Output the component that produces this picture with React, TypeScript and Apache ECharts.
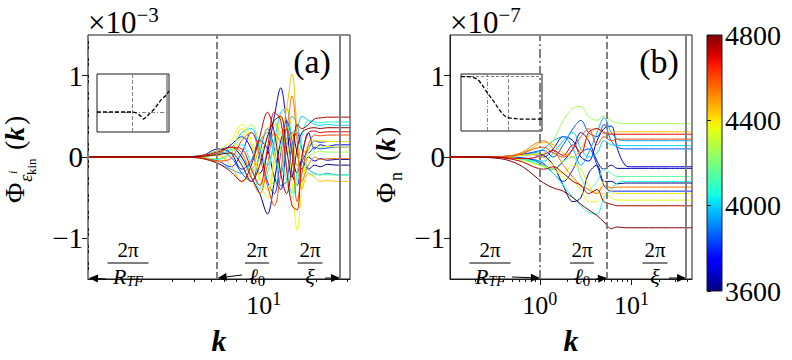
import React, { useEffect, useRef } from "react";
import * as echarts from "echarts";

const FONT = "'Liberation Serif', 'DejaVu Serif', serif";

// Temperatures (colour value of each curve)
const TEMPS = [3600, 3650, 3700, 3800, 3850, 3950, 4000, 4050, 4150, 4250, 4350, 4400, 4450, 4550, 4600, 4700, 4750, 4800];

// Panel (a): wavenumbers and Phi_eps (x 1e-3)
const K_A = [1, 3.5, 4.5, 5.5, 6.5, 7.5, 8.5, 9.5, 10.5, 11.5, 12.5, 13.5, 14.5, 15.5, 16.5, 18, 19.5, 21, 23, 26, 31];
const PHI_A: number[][] = [
  [0, 0, 0.01, 0.08, 0.12, 0.0, -0.25, -0.45, -0.7, -0.3, 0.2, 0.35, 0.05, -0.2, -0.05, -0.15, -0.1, -0.12, -0.09, -0.1, -0.1],
  [0, 0, 0.02, 0.1, 0.05, -0.15, -0.05, 0.2, 0.1, -0.25, -0.4, 0.1, 0.3, 0.05, -0.15, 0.0, -0.05, -0.02, -0.04, -0.03, -0.03],
  [0, 0, 0.01, 0.04, 0.15, 0.25, 0.1, -0.2, 0.05, 0.5, 0.85, 0.4, -0.2, -0.35, 0.0, 0.3, 0.1, 0.15, 0.13, 0.15, 0.15],
  [0, 0, -0.01, -0.05, -0.12, 0.05, 0.3, 0.1, -0.3, -0.45, 0.05, 0.45, 0.2, -0.1, -0.05, 0.1, 0.2, 0.18, 0.19, 0.19, 0.19],
  [0, 0, 0.02, 0.06, 0.0, -0.2, -0.3, 0.05, 0.35, 0.1, -0.35, -0.3, 0.15, 0.3, 0.1, 0.05, 0.12, 0.1, 0.11, 0.12, 0.12],
  [0, 0, -0.02, -0.08, -0.15, -0.2, -0.05, 0.2, 0.3, 0.0, -0.2, 0.2, 0.5, 0.4, 0.1, -0.15, -0.2, -0.22, -0.2, -0.22, -0.22],
  [0, 0, 0.01, 0.03, 0.1, 0.3, 0.35, 0.1, -0.1, 0.2, 0.55, 0.6, 0.3, 0.35, 0.5, 0.45, 0.4, 0.39, 0.4, 0.39, 0.39],
  [0, 0, -0.01, -0.03, 0.05, 0.15, -0.1, -0.4, -0.2, 0.15, 0.3, -0.1, -0.45, -0.2, 0.25, 0.45, 0.43, 0.42, 0.43, 0.43, 0.43],
  [0, 0, 0.01, 0.05, 0.1, -0.05, -0.2, 0.0, 0.25, 0.45, 0.1, -0.3, -0.5, -0.3, -0.1, -0.2, -0.22, -0.21, -0.22, -0.22, -0.22],
  [0, 0, -0.01, -0.02, 0.08, 0.25, 0.4, 0.15, -0.2, -0.35, 0.1, 0.4, 0.15, -0.35, -0.3, 0.0, 0.05, 0.07, 0.06, 0.06, 0.06],
  [0, 0, 0.02, 0.08, 0.2, 0.4, 0.2, -0.3, -0.5, -0.1, 0.3, 0.2, -0.3, -0.9, -0.4, 0.1, 0.15, 0.12, 0.13, 0.12, 0.12],
  [0, 0, -0.02, -0.06, 0.05, 0.35, 0.15, -0.25, -0.4, 0.0, 0.5, 0.6, 0.3, -0.1, 0.0, 0.15, 0.2, 0.2, 0.19, 0.19, 0.19],
  [0, 0, 0.01, 0.02, -0.1, -0.3, -0.2, 0.15, 0.35, 0.4, 0.3, 0.6, 1.02, 0.3, -0.4, -0.2, -0.25, -0.3, -0.29, -0.3, -0.3],
  [0, 0, 0.01, 0.04, 0.12, 0.05, -0.25, -0.45, -0.1, 0.3, 0.2, 0.35, 0.75, 0.2, -0.3, -0.1, 0.0, -0.03, -0.02, -0.02, -0.02],
  [0, 0, -0.01, -0.05, -0.02, 0.2, 0.3, 0.0, -0.35, -0.6, -0.2, 0.35, 0.1, -0.55, -0.2, 0.15, 0.27, 0.26, 0.27, 0.27, 0.27],
  [0, 0, 0.02, 0.06, 0.12, 0.1, -0.15, -0.35, 0.1, 0.55, 0.45, -0.15, -0.6, -0.65, 0.0, 0.3, 0.32, 0.3, 0.31, 0.31, 0.31],
  [0, 0, -0.02, -0.08, -0.18, -0.3, -0.1, 0.25, 0.55, 0.3, -0.2, -0.45, -0.1, 0.4, 0.35, 0.4, 0.47, 0.48, 0.49, 0.49, 0.49],
  [0, 0, 0.01, 0.03, 0.05, -0.1, -0.3, -0.1, 0.25, 0.45, 0.5, 0.1, -0.25, 0.1, 0.3, 0.35, 0.36, 0.35, 0.36, 0.36, 0.36],
];

// Panel (b): wavenumbers and Phi_n (x 1e-7)
const K_B = [0.105, 0.2, 0.3, 0.45, 0.65, 0.85, 1.1, 1.4, 1.8, 2.3, 2.8, 3.4, 4.2, 5, 6, 7, 8.5, 10, 13, 18, 25, 45.5];
const PHI_B: number[][] = [
  [0, 0, 0, 0.01, 0.03, 0.05, 0.02, -0.1, -0.35, -0.55, -0.5, -0.2, -0.1, -0.3, -0.3, -0.33, -0.32, -0.32, -0.32, -0.32, -0.32, -0.32],
  [0, 0, 0, -0.01, -0.02, -0.04, -0.1, -0.15, -0.05, 0.1, 0.3, 0.2, -0.05, -0.15, -0.1, -0.14, -0.14, -0.14, -0.14, -0.14, -0.14, -0.14],
  [0, 0, 0, 0.01, 0.02, 0.03, 0.0, 0.1, 0.25, 0.2, 0.0, -0.05, 0.2, 0.35, 0.38, 0.1, -0.1, -0.12, -0.12, -0.12, -0.12, -0.12],
  [0, 0, 0, 0, -0.01, -0.03, -0.08, -0.2, -0.3, -0.15, 0.05, 0.1, -0.1, -0.35, -0.42, -0.42, -0.42, -0.42, -0.42, -0.42, -0.42, -0.42],
  [0, 0, 0, 0.01, 0.03, 0.06, 0.08, 0.0, 0.15, 0.35, 0.45, 0.3, 0.25, 0.4, 0.2, 0.12, 0.1, 0.1, 0.1, 0.1, 0.1, 0.1],
  [0, 0, 0, 0.01, 0.02, 0.05, 0.1, 0.2, 0.25, 0.1, -0.1, 0.05, 0.3, 0.48, 0.3, 0.22, 0.2, 0.2, 0.2, 0.2, 0.2, 0.2],
  [0, 0, 0, -0.01, -0.03, -0.05, -0.05, 0.05, 0.2, 0.3, 0.1, 0.0, 0.05, 0.2, 0.15, 0.14, 0.14, 0.14, 0.14, 0.14, 0.14, 0.14],
  [0, 0, 0, -0.01, -0.03, -0.07, -0.12, -0.2, -0.35, -0.5, -0.6, -0.68, -0.7, -0.5, -0.4, -0.32, -0.3, -0.3, -0.3, -0.3, -0.3, -0.3],
  [0, 0, 0, -0.01, -0.02, -0.05, -0.1, -0.15, -0.05, 0.0, -0.25, -0.4, -0.3, -0.15, -0.2, -0.24, -0.24, -0.24, -0.24, -0.24, -0.24, -0.24],
  [0, 0, 0, 0.01, 0.02, 0.04, 0.05, 0.2, 0.45, 0.6, 0.62, 0.5, 0.45, 0.5, 0.45, 0.42, 0.41, 0.41, 0.41, 0.41, 0.41, 0.41],
  [0, 0, 0, -0.01, -0.04, -0.08, -0.12, -0.15, -0.25, -0.3, -0.4, -0.55, -0.55, -0.45, -0.5, -0.53, -0.53, -0.53, -0.53, -0.53, -0.53, -0.53],
  [0, 0, 0, 0.01, 0.02, 0.03, 0.0, -0.1, -0.2, -0.1, -0.15, -0.35, -0.45, -0.3, -0.42, -0.45, -0.45, -0.45, -0.45, -0.45, -0.45, -0.45],
  [0, 0, 0, 0.01, 0.05, 0.12, 0.18, 0.15, 0.05, 0.0, 0.1, 0.25, 0.35, 0.28, 0.3, 0.31, 0.31, 0.31, 0.31, 0.31, 0.31, 0.31],
  [0, 0, 0, 0.01, 0.06, 0.15, 0.2, 0.1, -0.1, -0.25, -0.35, -0.4, -0.45, -0.35, -0.38, -0.37, -0.37, -0.37, -0.37, -0.37, -0.37, -0.37],
  [0, 0, 0, 0.01, 0.04, 0.1, 0.12, 0.05, 0.0, 0.1, 0.25, 0.35, 0.15, 0.25, 0.2, 0.22, 0.22, 0.22, 0.22, 0.22, 0.22, 0.22],
  [0, 0, 0, -0.01, -0.02, -0.01, 0.03, 0.08, 0.02, 0.15, 0.05, 0.3, 0.35, 0.3, 0.28, 0.28, 0.28, 0.28, 0.28, 0.28, 0.28, 0.28],
  [0, 0, 0, -0.02, -0.06, -0.12, -0.15, -0.12, -0.2, -0.3, -0.35, -0.45, -0.4, -0.55, -0.58, -0.6, -0.6, -0.6, -0.6, -0.6, -0.6, -0.6],
  [0, 0, -0.01, -0.04, -0.12, -0.22, -0.32, -0.38, -0.42, -0.5, -0.58, -0.65, -0.72, -0.8, -0.88, -0.86, -0.87, -0.87, -0.87, -0.87, -0.87, -0.87],
];

// Insets
const INSET_K_A = [1, 2, 4, 5.4, 6.5, 8, 9, 10.5, 12, 14, 16, 19, 22, 26, 31];
const INSET_V_A = [0, 0, 0, 0, -0.05, -0.2, -0.35, -0.25, -0.1, 0.05, 0.2, 0.45, 0.65, 0.8, 1.05];
const INSET_K_B = [0.12, 0.2, 0.3, 0.45, 0.65, 1, 1.5, 2.2, 3.2, 4.5, 6, 9, 15, 30, 80];
const INSET_V_B = [1, 1, 0.99, 0.95, 0.85, 0.7, 0.58, 0.45, 0.33, 0.26, 0.24, 0.23, 0.22, 0.22, 0.22];

// Characteristic wavenumbers
const K_RTF_A = 1, K_L0_A = 5.4, K_XI_A = 27.2;
const K_RTF_B = 1, K_L0_B = 5.4, K_XI_B = 39.2;

// Axis ranges and ticks
const X_RANGE_A = [1, 31];
const X_RANGE_B = [0.105, 45.5];
const MAJOR_A = [10];
const MAJOR_B = [1, 10];
const MINOR_A = [2, 3, 4, 5, 6, 7, 8, 9, 20, 30];
const MINOR_B = [0.2, 0.3, 0.4, 0.5, 0.6, 0.7, 0.8, 0.9, 2, 3, 4, 5, 6, 7, 8, 9, 20, 30, 40];
const Y_TICKS = [-1, 0, 1];
const CBAR_MIN = 3600, CBAR_MAX = 4800, CBAR_STEP = 400;

// matplotlib "jet" colormap segments
const JR = [[0, 0], [0.35, 0], [0.66, 1], [0.89, 1], [1, 0.5]];
const JG = [[0, 0], [0.125, 0], [0.375, 1], [0.64, 1], [0.91, 0], [1, 0]];
const JB = [[0, 0.5], [0.11, 1], [0.34, 1], [0.65, 0], [1, 0]];
function seg(tbl: number[][], t: number) {
  for (let i = 1; i < tbl.length; i++) {
    if (t <= tbl[i][0]) {
      const [x0, y0] = tbl[i - 1];
      const [x1, y1] = tbl[i];
      return y0 + ((y1 - y0) * (t - x0)) / (x1 - x0);
    }
  }
  return tbl[tbl.length - 1][1];
}
function jet(t: number) {
  const c = (v: number) => Math.round(255 * Math.max(0, Math.min(1, v)));
  return `rgb(${c(seg(JR, t))},${c(seg(JG, t))},${c(seg(JB, t))})`;
}
const tColor = (T: number) => jet((T - CBAR_MIN) / (CBAR_MAX - CBAR_MIN));

const GREY = "#808080";
const INK = "#1a1a1a";

const powRich = {
  b: { fontSize: 26, fontFamily: FONT, color: "#000" },
  s: { fontSize: 18, fontFamily: FONT, color: "#000", padding: [0, 0, 13, 0] },
};
const powFmt = (v: number) => `{b|10}{s|${Math.round(Math.log10(v))}}`;
const yFmt = (v: number) => (v < 0 ? "\u2212" + Math.abs(v) : String(v));

function mainX(grid: number, range: number[], major: number[]) {
  return {
    gridIndex: grid, type: "log", logBase: 10, min: range[0], max: range[1], position: "bottom",
    axisLine: { show: true, onZero: false, lineStyle: { color: INK, width: 1 } },
    axisTick: { show: true, customValues: major, length: 6, lineStyle: { color: INK } },
    axisLabel: { show: true, customValues: major, formatter: powFmt, rich: powRich, margin: 11 },
    splitLine: { show: false }, minorTick: { show: false },
    name: "k", nameLocation: "middle", nameGap: 46,
    nameTextStyle: { fontSize: 30, fontStyle: "italic", fontWeight: "bold", fontFamily: FONT, color: "#000" },
  };
}
function minorX(grid: number, range: number[], minor: number[]) {
  return {
    gridIndex: grid, type: "log", logBase: 10, min: range[0], max: range[1], position: "bottom",
    axisLine: { show: false, onZero: false },
    axisTick: { show: true, customValues: minor, length: 3, lineStyle: { color: INK } },
    axisLabel: { show: false }, splitLine: { show: false },
  };
}
function mainY(grid: number) {
  return {
    gridIndex: grid, type: "value", min: -1.5, max: 1.5,
    axisLine: { show: true, onZero: false, lineStyle: { color: INK } },
    axisTick: { show: true, customValues: Y_TICKS, length: 6, lineStyle: { color: INK } },
    axisLabel: { customValues: Y_TICKS, formatter: yFmt, fontSize: 29, fontFamily: FONT, color: "#000", margin: 5 },
    splitLine: { show: false },
  };
}
function refLines(xAxisIndex: number, yAxisIndex: number, rtf: number, l0: number, xi: number) {
  return {
    type: "line", xAxisIndex, yAxisIndex, data: [[l0, 0]], showSymbol: false, symbol: "none",
    lineStyle: { opacity: 0 }, silent: true, z: 1,
    markLine: {
      silent: true, symbol: ["none", "none"], label: { show: false }, animation: false,
      data: [
        { xAxis: rtf, lineStyle: { color: GREY, width: 2, type: [9, 3, 2, 3] } },
        { xAxis: l0, lineStyle: { color: GREY, width: 2, type: [7, 3] } },
        { xAxis: xi, lineStyle: { color: GREY, width: 2, type: "solid" } },
      ],
    },
  };
}

function arrow(x1: number, y1: number, x2: number, y2: number) {
  const dx = x2 - x1, dy = y2 - y1, L = Math.hypot(dx, dy);
  const ux = dx / L, uy = dy / L, hl = 9, hw = 4;
  const bx = x2 - ux * hl, by = y2 - uy * hl;
  return [
    { type: "line", shape: { x1, y1, x2: bx, y2: by }, style: { stroke: "#000", lineWidth: 1 }, z: 50 },
    { type: "polygon", shape: { points: [[x2, y2], [bx - uy * hw, by + ux * hw], [bx + uy * hw, by - ux * hw]] }, style: { fill: "#000" }, z: 50 },
  ];
}
const txt = (x: number, y: number, text: string, extra: any = {}) => ({
  type: "text", x, y, z: 50,
  style: { text, fontFamily: FONT, fontSize: 20, fill: "#000", align: "center", verticalAlign: "middle", ...extra },
});
const denomRich = {
  i: { fontSize: 22, fontStyle: "italic", fontFamily: FONT, color: "#000" },
  si: { fontSize: 14, fontStyle: "italic", fontFamily: FONT, color: "#000", padding: [10, 0, 0, 0] },
  s: { fontSize: 15, fontFamily: FONT, color: "#000", padding: [10, 0, 0, 0] },
};
function fraction(cx: number, w: number, denom: string) {
  return [
    txt(cx, 250, "2\u03c0", { fontSize: 21 }),
    { type: "line", z: 50, shape: { x1: cx - w / 2, y1: 263, x2: cx + w / 2, y2: 263 }, style: { stroke: "#000", lineWidth: 1 } },
    txt(cx, 276, denom, { rich: denomRich }),
  ];
}
function yTitle(x: number, y: number, parts: any[]) {
  return { type: "group", x, y, rotation: Math.PI / 2, z: 50, children: parts };
}
const tpart = (x: number, y: number, text: string, size: number, extra: any = {}) => ({
  type: "text", x, y,
  style: { text, fontFamily: FONT, fontSize: size, fill: "#000", align: "left", verticalAlign: "middle", ...extra },
});

export default function App() {
  const ref = useRef<HTMLDivElement>(null);
  useEffect(() => {
    if (!ref.current) return;
    document.body.style.margin = "0";
    const chart = echarts.init(ref.current, null, { renderer: "svg" });
    const stops = [] as any[];
    for (let i = 0; i <= 40; i++) stops.push({ offset: i / 40, color: jet(i / 40) });
    const cbarFill = new echarts.graphic.LinearGradient(0, 1, 0, 0, stops);

    const seriesA = TEMPS.map((T, i) => ({
      type: "line", name: `a${T}`, xAxisIndex: 0, yAxisIndex: 0,
      data: K_A.map((k, j) => [k, PHI_A[i][j]]),
      showSymbol: false, symbol: "none", smooth: 0.35, z: 2,
      lineStyle: { color: tColor(T), width: 1 }, itemStyle: { color: tColor(T) },
    }));
    const seriesB = TEMPS.map((T, i) => ({
      type: "line", name: `b${T}`, xAxisIndex: 2, yAxisIndex: 1,
      data: K_B.map((k, j) => [k, PHI_B[i][j]]),
      showSymbol: false, symbol: "none", smooth: 0.35, z: 2,
      lineStyle: { color: tColor(T), width: 1 }, itemStyle: { color: tColor(T) },
    }));

    const option: any = {
      animation: false,
      backgroundColor: "#fff",
      grid: [
        { left: 88, top: 35, width: 262, height: 256, show: true, borderColor: INK, borderWidth: 1, backgroundColor: "transparent" },
        { left: 450, top: 35, width: 242, height: 256, show: true, borderColor: INK, borderWidth: 1, backgroundColor: "transparent" },
        { left: 707, top: 35, width: 15, height: 256, show: true, borderColor: INK, borderWidth: 1, backgroundColor: cbarFill },
        { left: 97, top: 74, width: 72, height: 58, show: true, borderColor: INK, borderWidth: 1, backgroundColor: "#fff" },
        { left: 461, top: 74, width: 81, height: 57, show: true, borderColor: INK, borderWidth: 1, backgroundColor: "#fff" },
      ],
      xAxis: [
        mainX(0, X_RANGE_A, MAJOR_A),
        minorX(0, X_RANGE_A, MINOR_A),
        mainX(1, X_RANGE_B, MAJOR_B),
        minorX(1, X_RANGE_B, MINOR_B),
        { gridIndex: 2, type: "value", show: false, min: 0, max: 1 },
        { gridIndex: 3, type: "log", logBase: 10, min: X_RANGE_A[0], max: X_RANGE_A[1], show: false },
        { gridIndex: 4, type: "log", logBase: 10, min: 0.12, max: 80, show: false },
      ],
      yAxis: [
        mainY(0),
        mainY(1),
        {
          gridIndex: 2, type: "value", min: CBAR_MIN, max: CBAR_MAX, interval: CBAR_STEP, position: "right",
          axisLine: { show: false },
          axisTick: { show: true, length: 4, lineStyle: { color: INK } },
          axisLabel: { fontSize: 28, fontFamily: FONT, color: "#000", margin: 3, formatter: (v: number) => String(v) },
          splitLine: { show: false },
        },
        { gridIndex: 3, type: "value", min: -1, max: 1.9, show: false, splitLine: { show: false } },
        { gridIndex: 4, type: "value", min: 0, max: 1.05, show: false, splitLine: { show: false } },
      ],
      series: [
        refLines(0, 0, K_RTF_A, K_L0_A, K_XI_A),
        refLines(2, 1, K_RTF_B, K_L0_B, K_XI_B),
        ...seriesA,
        ...seriesB,
        {
          type: "line", xAxisIndex: 5, yAxisIndex: 3, data: INSET_K_A.map((k, j) => [k, INSET_V_A[j]]),
          showSymbol: false, symbol: "none", smooth: 0.3, z: 5,
          lineStyle: { color: "#000", width: 1.3, type: [4, 2] },
          markLine: {
            silent: true, symbol: ["none", "none"], label: { show: false }, animation: false,
            data: [
              { yAxis: 0, lineStyle: { color: GREY, width: 1, type: [4, 2, 1, 2] } },
              { xAxis: K_L0_A, lineStyle: { color: GREY, width: 1, type: [4, 2] } },
              { xAxis: K_XI_A, lineStyle: { color: GREY, width: 1.5, type: "solid" } },
            ],
          },
        },
        {
          type: "line", xAxisIndex: 6, yAxisIndex: 4, data: INSET_K_B.map((k, j) => [k, INSET_V_B[j]]),
          showSymbol: false, symbol: "none", smooth: 0.3, z: 5,
          lineStyle: { color: "#000", width: 1.3, type: [4, 2] },
          markLine: {
            silent: true, symbol: ["none", "none"], label: { show: false }, animation: false,
            data: [
              { yAxis: 1, lineStyle: { color: GREY, width: 1, type: [3, 2] } },
              { xAxis: K_RTF_B, lineStyle: { color: GREY, width: 1, type: [4, 2, 1, 2] } },
              { xAxis: K_L0_B, lineStyle: { color: GREY, width: 1, type: [4, 2] } },
            ],
          },
        },
      ],
    };
    chart.setOption(option);

    const pA = (k: number) => chart.convertToPixel({ seriesIndex: 0 }, [k, -1.5]) as number[];
    const pB = (k: number) => chart.convertToPixel({ seriesIndex: 1 }, [k, -1.5]) as number[];
    const aR = pA(K_RTF_A), aL = pA(K_L0_A), aX = pA(K_XI_A);
    const bR = pB(K_RTF_B), bL = pB(K_L0_B), bX = pB(K_XI_B);

    const supRich = {
      b: { fontSize: 31, fontFamily: FONT, color: "#000" },
      s: { fontSize: 21, fontFamily: FONT, color: "#000", padding: [0, 0, 15, 0] },
    };

    const graphic: any[] = [
      txt(312, 61, "(a)", { fontSize: 34 }),
      txt(659, 61, "(b)", { fontSize: 34 }),
      txt(88, 22, "{b|\u00d710}{s|\u22123}", { rich: supRich, align: "left" }),
      txt(450, 22, "{b|\u00d710}{s|\u22127}", { rich: supRich, align: "left" }),
      ...fraction(128, 41, "{i|R}{si|TF}"),
      ...fraction(257, 24, "{i|\u2113}{s|0}"),
      ...fraction(310, 25, "{i|\u03be}"),
      ...fraction(490, 41, "{i|R}{si|TF}"),
      ...fraction(582, 24, "{i|\u2113}{s|0}"),
      ...fraction(655, 25, "{i|\u03be}"),
      ...arrow(106, 279, aR[0] + 1, aR[1] - 1),
      ...arrow(242, 275, aL[0] + 1, aL[1] - 1),
      ...arrow(325, 278, aX[0], aX[1] - 1),
      ...arrow(512, 277, bR[0], bR[1] - 1),
      ...arrow(596, 279, bL[0], bL[1] - 1),
      ...arrow(669, 278, bX[0], bX[1] - 1),
      yTitle(18, 203, [
        tpart(0, -4, "\u03a6", 28),
        tpart(21, 7, "\u03b5", 19, { fontStyle: "italic" }),
        tpart(29, -5, "i", 12, { fontStyle: "italic" }),
        tpart(28, 13, "kin", 13),
        tpart(53, -4, "(", 28),
        tpart(62, -4, "k", 28, { fontStyle: "italic", fontWeight: "bold" }),
        tpart(78, -4, ")", 28),
      ]),
      yTitle(389, 203, [
        tpart(0, -4, "\u03a6", 28),
        tpart(22, 7, "n", 18),
        tpart(42, -4, "(", 28),
        tpart(51, -4, "k", 28, { fontStyle: "italic", fontWeight: "bold" }),
        tpart(67, -4, ")", 28),
      ]),
    ];
    chart.setOption({ graphic });

    return () => chart.dispose();
  }, []);
  return <div ref={ref} style={{ position: "absolute", left: 0, top: 0, width: 792, height: 360 }} />;
}
